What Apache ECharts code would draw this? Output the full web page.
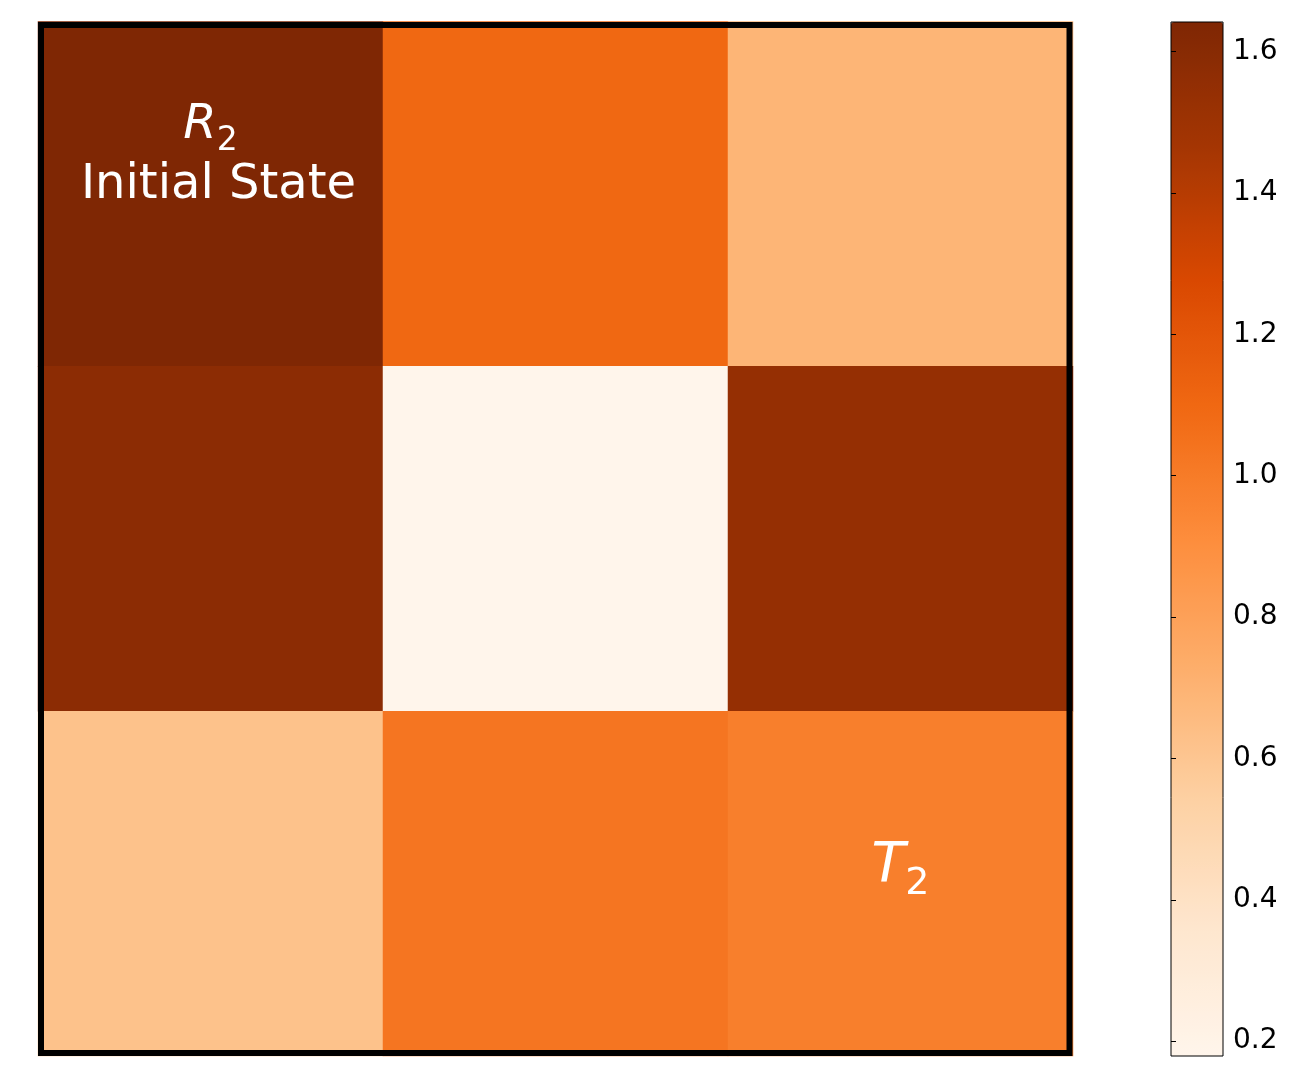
<!DOCTYPE html>
<html>
<head>
<meta charset="utf-8">
<script src="https://cdn.jsdelivr.net/npm/echarts@6/dist/echarts.min.js"></script>
<style>html,body{margin:0;padding:0;background:#fff;}#c{width:1309px;height:1089px;}</style>
</head>
<body>
<div id="c"></div>
<script>
const colCats = ['c0', 'c1', 'c2'];
const rowCats = ['r0', 'r1', 'r2'];
const row0 = [1.642, 1.10, 0.69];
const row1 = [1.58, 0.179, 1.54];
const row2 = [0.62, 1.03, 0.98];
const vMin = 0.179, vMax = 1.642;
const cbTicks = [0.2, 0.4, 0.6, 0.8, 1.0, 1.2, 1.4, 1.6];
const oranges = ['#fff5eb','#fee6ce','#fdd0a2','#fdae6b','#fd8d3c','#f16913','#d94801','#a63603','#7f2704'];

const rows = [row0, row1, row2];
const data = [];
rows.forEach((r, ri) => r.forEach((v, ci) => {
  const item = { value: [ci, ri, v] };
  if (ri === 0 && ci === 0) {
    item.label = {
      show: true, offset: [0, -36],
      formatter: '{r|R}{s|2}\n{t|Initial State}',
      rich: {
        r: { fontSize: 48, fontStyle: 'italic', color: '#fff', fontFamily: 'DejaVu Sans', verticalAlign: 'bottom', padding: [0, 0, 8, 0], lineHeight: 56 },
        s: { fontSize: 33, color: '#fff', fontFamily: 'DejaVu Sans', verticalAlign: 'bottom', lineHeight: 56 },
        t: { fontSize: 48, color: '#fff', fontFamily: 'DejaVu Sans', lineHeight: 56, padding: [0, 0, 0, 16] }
      }
    };
  }
  if (ri === 2 && ci === 2) {
    item.label = {
      show: true, offset: [0, -12],
      formatter: '{r|T}{s|2}',
      rich: {
        r: { fontSize: 55, fontStyle: 'italic', color: '#fff', fontFamily: 'DejaVu Sans', verticalAlign: 'bottom', padding: [0, 0, 9, 0], lineHeight: 64 },
        s: { fontSize: 38, color: '#fff', fontFamily: 'DejaVu Sans', verticalAlign: 'bottom', lineHeight: 64 }
      }
    };
  }
  data.push(item);
}));

const chart = echarts.init(document.getElementById('c'));
chart.setOption({
  animation: false,
  backgroundColor: '#fff',
  grid: [
    { left: 38, top: 21.5, width: 1035, height: 1034.5, show: false },
    { left: 1171, top: 22, width: 52, height: 1034, show: true, borderColor: '#000', borderWidth: 1, backgroundColor: 'transparent', z: 10 }
  ],
  xAxis: [
    { type: 'category', data: colCats, gridIndex: 0, show: false },
    { type: 'value', gridIndex: 1, show: false, min: 0, max: 1 }
  ],
  yAxis: [
    { type: 'category', data: rowCats, gridIndex: 0, show: false, inverse: true },
    {
      type: 'value', gridIndex: 1, position: 'right', min: vMin, max: vMax, z: 10,
      splitLine: { show: false },
      axisLine: { show: false },
      axisTick: { show: true, length: 5, lineStyle: { color: '#000', width: 1 }, customValues: cbTicks },
      axisLabel: { show: true, margin: 10, fontSize: 28, color: '#000', fontFamily: 'DejaVu Sans', customValues: cbTicks, formatter: v => v.toFixed(1) }
    }
  ],
  visualMap: {
    type: 'continuous', min: vMin, max: vMax, seriesIndex: 0,
    calculable: false, hoverLink: false,
    orient: 'vertical', left: 1171, top: 22, itemWidth: 52, itemHeight: 1034, padding: 0,
    text: null, showLabel: false,
    inRange: { color: oranges }
  },
  graphic: [
    { type: 'rect', z: 100, shape: { x: 41, y: 25, width: 1028.5, height: 1028 }, style: { fill: 'none', stroke: '#000', lineWidth: 6 } }
  ],
  series: [{
    type: 'heatmap', xAxisIndex: 0, yAxisIndex: 0,
    data: data,
    itemStyle: { borderWidth: 0 },
    emphasis: { disabled: true },
    label: { show: false }
  }]
});
</script>
</body>
</html>
